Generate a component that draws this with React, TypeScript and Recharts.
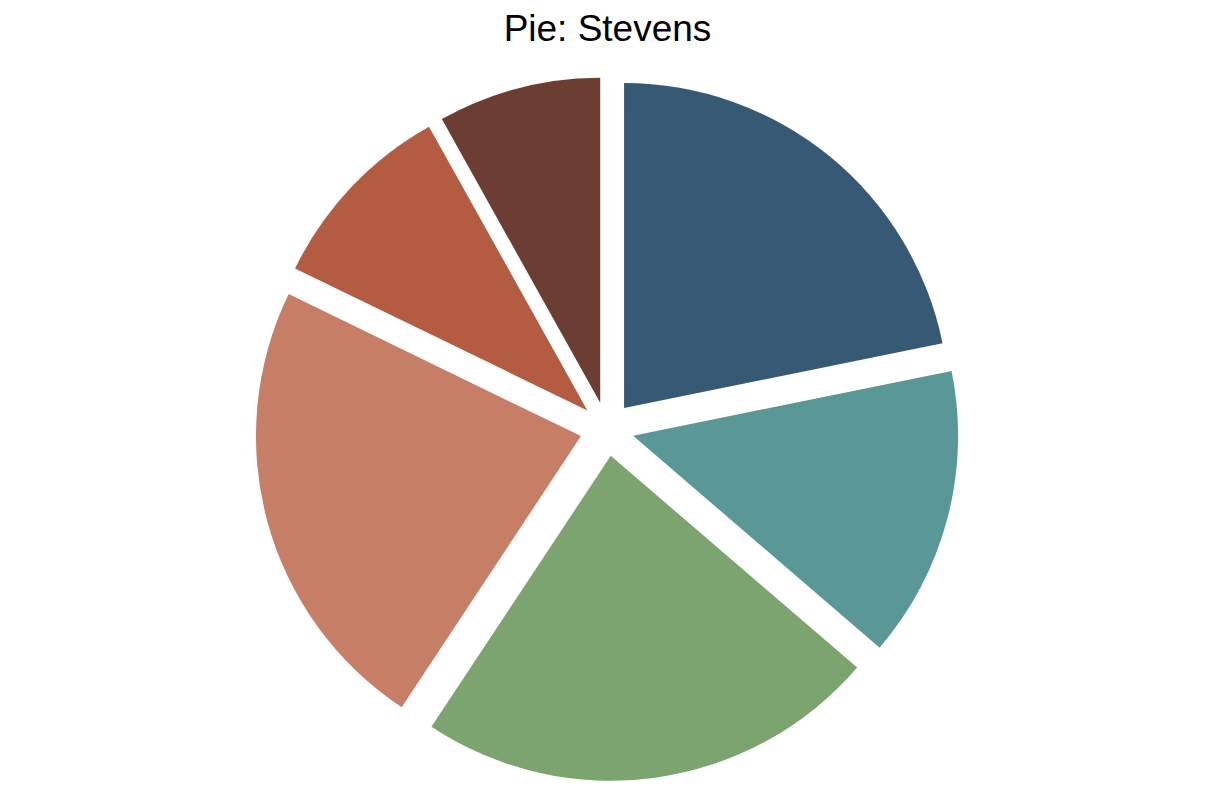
import React from "react";
import { PieChart, Pie, Cell, Sector } from "recharts";

const categories = ["A", "B", "C", "D", "E", "F"];
const values = [21.8, 14.5, 23.0, 22.9, 9.7, 8.1];
const colors = ["#365a73", "#5a9898", "#7ca46e", "#c77e66", "#b35c42", "#6b3d33"];

const data = categories.map((name, i) => ({ name, value: values[i] }));

const EXPLODE = 27;
const RAD = Math.PI / 180;

const ExplodedSlice = (props: any) => {
  const { cx, cy, midAngle } = props;
  const dx = EXPLODE * Math.cos(-midAngle * RAD);
  const dy = EXPLODE * Math.sin(-midAngle * RAD);
  return (
    <Sector
      cx={cx + dx}
      cy={cy + dy}
      innerRadius={props.innerRadius}
      outerRadius={props.outerRadius}
      startAngle={props.startAngle}
      endAngle={props.endAngle}
      fill={props.fill}
      stroke="none"
    />
  );
};

export default function App() {
  return (
    <div style={{ position: "absolute", left: 0, top: 0, width: 1213, height: 808, background: "#fff" }}>
      <div
        style={{
          position: "absolute",
          left: 0,
          top: 7,
          width: 1215,
          textAlign: "center",
          fontFamily: "'Liberation Sans', Arial, sans-serif",
          fontSize: 37,
          lineHeight: "44px",
          color: "#000",
        }}
      >
        Pie: Stevens
      </div>
      <PieChart width={1213} height={808} margin={{ top: 0, right: 0, bottom: 0, left: 0 }}>
        <Pie
          data={data}
          dataKey="value"
          nameKey="name"
          cx={607}
          cy={429}
          innerRadius={0}
          outerRadius={325}
          startAngle={90}
          endAngle={-270}
          stroke="none"
          isAnimationActive={false}
          shape={ExplodedSlice}
          label={false}
          labelLine={false}
        >
          {data.map((d, i) => (
            <Cell key={d.name} fill={colors[i]} />
          ))}
        </Pie>
      </PieChart>
    </div>
  );
}
